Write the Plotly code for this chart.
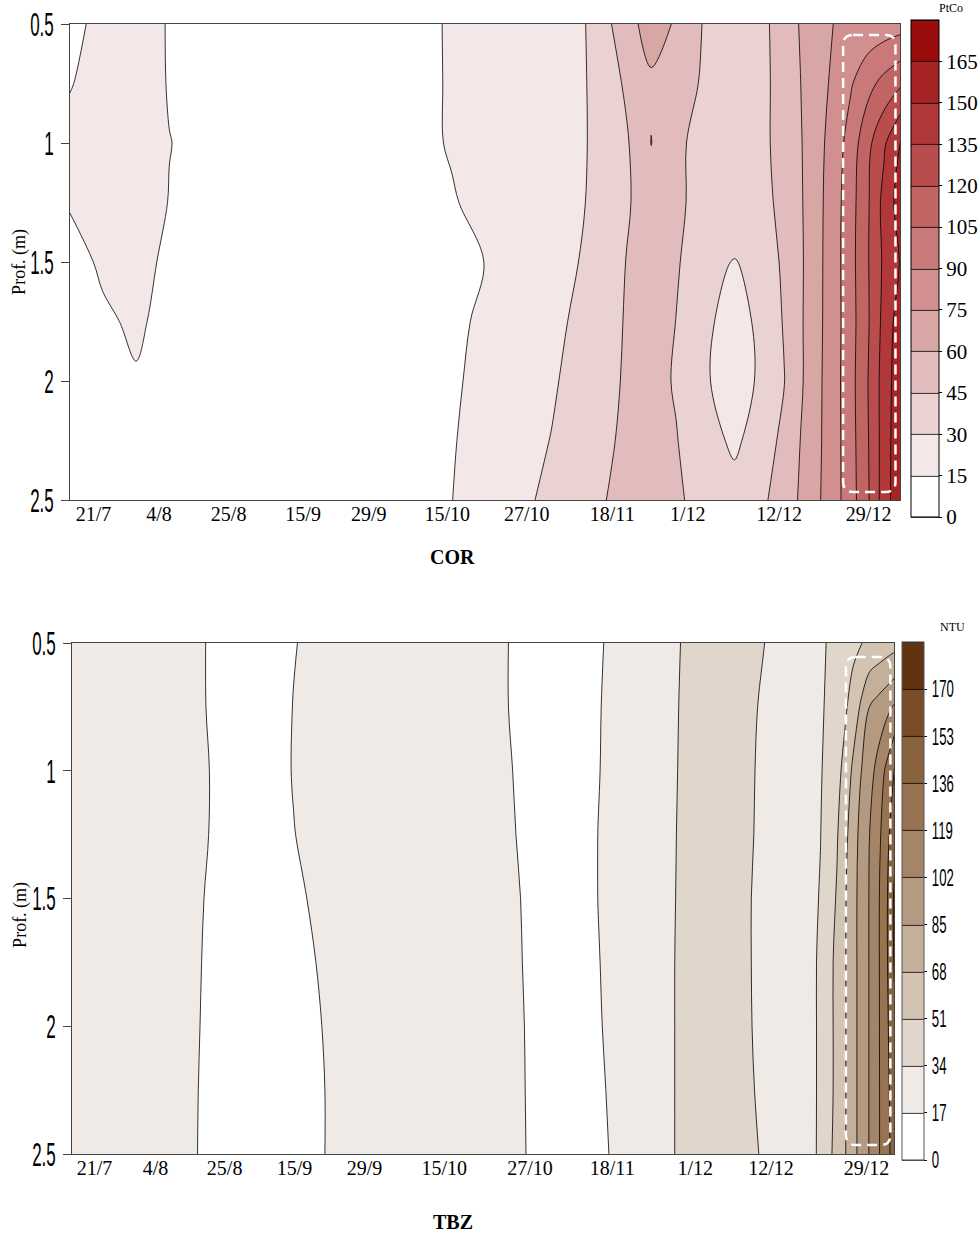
import plotly.graph_objects as go

# ---------------- data ----------------
dates = ["21/7", "4/8", "25/8", "15/9", "29/9", "15/10", "27/10", "18/11", "1/12", "12/12", "29/12"]
cor_tick_pos = [2.87, 10.77, 19.14, 28.11, 36.0, 45.45, 55.02, 65.31, 74.4, 85.4, 96.17]
tbz_tick_pos = [2.8, 10.2, 18.6, 27.1, 35.6, 45.3, 55.7, 65.7, 75.8, 85.0, 96.6]

depths = [0.5, 0.75, 1.0, 1.25, 1.5, 1.75, 2.0, 2.25, 2.5]
depth_ticks = [0.5, 1, 1.5, 2, 2.5]
depth_labels = ["0.5", "1", "1.5", "2", "2.5"]

# COR (PtCo) -- time position (0-100 scale) x depth
cor_x = [0, 4, 8, 12, 20, 30, 40, 46, 52, 58, 62, 64, 67, 70, 73, 76, 80, 84, 86, 88, 90, 92, 94, 96, 98, 100]
cor_z = [
    [10, 20, 22, 14, 8, 6, 10, 16.2, 21.2, 26.2, 29.5, 38.1, 55, 65.5, 58.7, 45.4, 31, 44, 52.5, 61.1, 68.6, 75.3, 77.5, 79.7, 81.8, 84],
    [14, 22, 24, 14, 8, 6, 10, 16.1, 21, 26, 29.3, 34.9, 47.3, 58, 50.7, 44.3, 35, 43.7, 51.2, 60, 68.8, 78.1, 88.4, 99.8, 109.6, 118],
    [20, 24, 25, 15.3, 8, 6, 11, 15.8, 20.8, 25.9, 29.3, 33.75, 43.1, 60.3, 47.7, 41.2, 37.6, 43.9, 50.6, 59.1, 70, 81.6, 96, 115.3, 132.5, 151],
    [16, 22, 24, 14.5, 8, 6, 10, 14.2, 19.8, 25.8, 29.8, 34.9, 43.1, 53.2, 47.2, 41.7, 36, 42.9, 48.9, 58.5, 70.6, 83.1, 99, 117.4, 139.5, 157],
    [10, 17, 20, 12, 7, 5, 8, 12.1, 16.6, 25.3, 31.1, 36.7, 45.3, 53.2, 46.9, 35.4, 29.3, 39, 47.6, 57.9, 70.9, 83.4, 99.6, 118.2, 137.5, 151],
    [6, 13, 17, 11, 6, 5, 8, 12.7, 18.9, 26.6, 33.6, 38.6, 46, 52, 44.8, 34.8, 23, 36.4, 46.2, 58.2, 71.1, 83.4, 99, 117.4, 139.5, 158],
    [4, 8, 14, 8, 6, 5, 8, 13.4, 20.5, 28.3, 36, 40.5, 46.4, 49.2, 43.9, 33.2, 22, 35.2, 44.5, 58, 71.6, 83.7, 99.6, 119, 141.3, 160],
    [3, 5, 8, 6, 5, 5, 9, 14.2, 22, 30.4, 38.5, 42.6, 46.9, 48.1, 45.6, 38, 27, 40.1, 48.9, 60.4, 72, 83.7, 99, 118.1, 141.3, 162],
    [3, 4, 5, 5, 5, 5, 9, 14.85, 23.7, 33.1, 40.6, 44.3, 47.8, 49.1, 46.6, 41.9, 36.2, 44.8, 52.9, 61.7, 72.8, 83.9, 98.4, 117.2, 141.9, 162],
]

# TBZ (NTU)
tbz_x = [0, 8, 13, 19, 23, 27, 31, 40, 48, 52, 56, 60, 64, 68, 72, 76, 80, 84, 86, 88, 90, 91, 92, 93, 94, 95, 96, 97, 98, 99, 100]
tbz_z = [
    [25, 25, 22, 12.9, 10, 16.5, 21, 25, 24, 18.5, 13, 10, 16, 22, 30, 38, 42, 34.5, 30, 28, 30, 32.2, 34.8, 38.9, 42.9, 47, 50.8, 53.8, 56.5, 59.3, 62],
    [25, 25, 22, 13, 10, 17.3, 22, 25, 24, 18.5, 13, 10, 16.5, 22, 30, 39, 42, 32.5, 29, 27, 29, 32.1, 36.4, 42.5, 48.6, 58.3, 71.1, 85.6, 91.2, 96.9, 104],
    [25, 25, 22, 14, 10, 17.6, 22, 25, 24, 19, 14, 10, 16.7, 22, 30.5, 39, 42, 31.5, 28, 27, 30, 32.9, 38.4, 45.8, 56.1, 71.9, 85.3, 95.6, 107.7, 122.1, 138],
    [25, 25, 22, 13.8, 10, 16.7, 22, 25, 24, 19.5, 14.5, 10, 17.1, 22, 31, 39, 42, 31, 28, 27, 31, 33.7, 41.3, 49.4, 63.4, 77.9, 90.7, 102.4, 114.1, 129.2, 148],
    [25, 25, 22, 12.3, 10, 13.7, 22, 25, 24, 19.5, 15.6, 10, 17.1, 22, 31.3, 39, 42, 29.7, 28, 27, 31, 34.9, 43.4, 52.4, 66.6, 79.8, 91.8, 103.3, 116.4, 132.6, 156],
    [25, 25, 22, 11.3, 10, 10, 20.4, 25, 24, 19.5, 15.9, 10, 16.7, 22, 31.6, 39, 42, 29.7, 28, 27, 31, 36.7, 45.6, 55.5, 66.9, 79.8, 91.8, 103.3, 116.4, 132.6, 155],
    [25, 25, 22, 10.5, 10, 10, 18.2, 25, 24, 19.5, 16.2, 10, 16.3, 22, 31.6, 39, 42, 30.1, 28, 27, 31, 36.7, 45.6, 55.5, 66.9, 79.8, 91.8, 103.3, 116.4, 131.4, 150],
    [25, 25, 22, 9.5, 10, 10, 17.4, 25, 24, 19.5, 16.3, 10, 15.5, 22, 31.6, 39, 42, 31.3, 28, 27, 31, 36.7, 45.6, 55.5, 66.9, 79.8, 91.8, 103.3, 116.4, 130.3, 146],
    [25, 25, 22, 9, 10, 10, 17.4, 25, 24, 19.5, 16.4, 10, 14.6, 22, 31.6, 39, 42, 32.9, 28, 27, 31, 37, 47, 57, 67, 79.8, 91.8, 103.3, 116.4, 130.3, 143],
]

cor_ticks = [0, 15, 30, 45, 60, 75, 90, 105, 120, 135, 150, 165]
tbz_ticks = [0, 17, 34, 51, 68, 85, 102, 119, 136, 153, 170]

cor_colors = ["#ffffff", "#f4e7e7", "#ebd2d2", "#e2bcbc", "#d9a6a6", "#d18f8f",
              "#c97979", "#c16464", "#b94d4d", "#b03838", "#a72424", "#9b0c0c"]
tbz_colors = ["#ffffff", "#efeae6", "#e0d6cc", "#d2c3b3", "#c4af9b", "#b49a80",
              "#a58567", "#977352", "#8a623e", "#7a4d28", "#623310"]


def stepped(colors):
    n = len(colors)
    scale = []
    for i, c in enumerate(colors):
        scale.append([i / n, c])
        scale.append([(i + 1) / n, c])
    return scale


def rrect(x0, x1, y0, y1, rx, ry):
    return (f"M {x0 + rx},{y0} L {x1 - rx},{y0} Q {x1},{y0} {x1},{y0 + ry} "
            f"L {x1},{y1 - ry} Q {x1},{y1} {x1 - rx},{y1} L {x0 + rx},{y1} "
            f"Q {x0},{y1} {x0},{y1 - ry} L {x0},{y0 + ry} Q {x0},{y0} {x0 + rx},{y0} Z")


W, H = 979, 1234
SERIF = "Liberation Serif, Times New Roman, serif"
SANS = "Liberation Sans, Arial, sans-serif"

fig = go.Figure()

fig.add_trace(go.Contour(
    x=cor_x, y=depths, z=cor_z, xaxis="x", yaxis="y",
    autocontour=False,
    contours=dict(start=0, end=180, size=15, coloring="fill", showlines=True),
    zmin=0, zmax=180,
    colorscale=stepped(cor_colors),
    line=dict(color="black", width=0.8, smoothing=1),
    hoverinfo="skip",
    colorbar=dict(
        x=916.5 / W, xanchor="left", y=1 - 268.5 / H, yanchor="middle",
        thickness=28, len=497, lenmode="pixels", xpad=0, ypad=0,
        outlinecolor="black", outlinewidth=1,
        tickmode="array", tickvals=cor_ticks, ticktext=[str(v) for v in cor_ticks],
        ticks="outside", ticklen=3, tickcolor="black",
        tickfont=dict(family=SERIF, size=21, color="black"),
    ),
))

fig.add_trace(go.Contour(
    x=tbz_x, y=depths, z=tbz_z, xaxis="x2", yaxis="y2",
    autocontour=False,
    contours=dict(start=0, end=187, size=17, coloring="fill", showlines=True),
    zmin=0, zmax=187,
    colorscale=stepped(tbz_colors),
    line=dict(color="black", width=0.8, smoothing=1),
    hoverinfo="skip",
    colorbar=dict(
        x=907.7 / W, xanchor="left", y=1 - 901 / H, yanchor="middle",
        thickness=22, len=518, lenmode="pixels", xpad=0, ypad=0,
        outlinecolor="#555", outlinewidth=1,
        tickmode="array", tickvals=tbz_ticks, ticktext=[str(v) for v in tbz_ticks],
        ticks="outside", ticklen=3, tickcolor="black",
        tickfont=dict(family=SANS, size=24, color="black"),
    ),
))

xcommon = dict(range=[0, 100], showgrid=False, zeroline=False, ticks="", automargin=False,
               showline=True, linecolor="#444", linewidth=1, mirror=True,
               ticklabelstandoff=-4,
               tickfont=dict(family=SERIF, size=20, color="black"))
ycommon = dict(range=[2.5, 0.5], showgrid=False, zeroline=False, automargin=False,
               tickmode="array", tickvals=depth_ticks, ticktext=depth_labels,
               ticks="outside", ticklen=8, tickcolor="#444",
               showline=True, linecolor="#444", linewidth=1, mirror=True,
               tickfont=dict(family=SANS, size=34, color="black"))


def ann(text, px, py, size, family=SERIF, angle=0):
    return dict(text=text, x=px / W, y=1 - py / H, xref="paper", yref="paper",
                xanchor="center", yanchor="middle", textangle=angle, showarrow=False,
                font=dict(family=family, size=size, color="black"))


fig.update_layout(
    width=W, height=H, autosize=False,
    margin=dict(l=0, r=0, t=0, b=0, pad=0),
    paper_bgcolor="white", plot_bgcolor="white",
    showlegend=False,
    xaxis=dict(domain=[70 / W, 906 / W], anchor="y", tickmode="array",
               tickvals=cor_tick_pos, ticktext=dates, **xcommon),
    yaxis=dict(domain=[1 - 500 / H, 1 - 24 / H], anchor="x", **ycommon),
    xaxis2=dict(domain=[72 / W, 900 / W], anchor="y2", tickmode="array",
                tickvals=tbz_tick_pos, ticktext=dates, **xcommon),
    yaxis2=dict(domain=[1 - 1154 / H, 1 - 643 / H], anchor="x2", **ycommon),
    annotations=[
        ann("Prof. (m)", 20, 262, 18, angle=-90),
        ann("Prof. (m)", 20, 915, 18, angle=-90),
        ann("<b>COR</b>", 455, 557, 20),
        ann("<b>TBZ</b>", 456, 1222, 20),
        ann("PtCo", 957, 8, 12),
        ann("NTU", 958, 627, 12),
    ],
    shapes=[
        dict(type="path", xref="x", yref="y",
             path=rrect(93.1, 99.4, 0.546, 2.466, 1.2, 0.042),
             line=dict(color="white", width=2.5, dash="10px,6px")),
        dict(type="path", xref="x2", yref="y2",
             path=rrect(94.1, 99.5, 0.555, 2.465, 1.2, 0.04),
             line=dict(color="white", width=2.5, dash="10px,6px")),
    ],
)

# Narrow (condensed) look for the sans-serif labels, as in the original figure
squeeze_js = """
var gd = document.getElementById('{plot_id}');
function squeeze(nodes, f) {
  nodes.forEach(function(t) {
    var w = t.getComputedTextLength();
    if (w > 0) {
      t.setAttribute('textLength', (w * f).toFixed(1));
      t.setAttribute('lengthAdjust', 'spacingAndGlyphs');
    }
  });
}
squeeze(gd.querySelectorAll('.ytick text, .y2tick text'), 0.5);
var cbs = gd.querySelectorAll('.colorbar');
if (cbs.length > 1) { squeeze(cbs[1].querySelectorAll('.cbaxis text, text.ycbtick, g text'), 0.55); }
"""

fig.write_html("out.html", post_script=squeeze_js)
